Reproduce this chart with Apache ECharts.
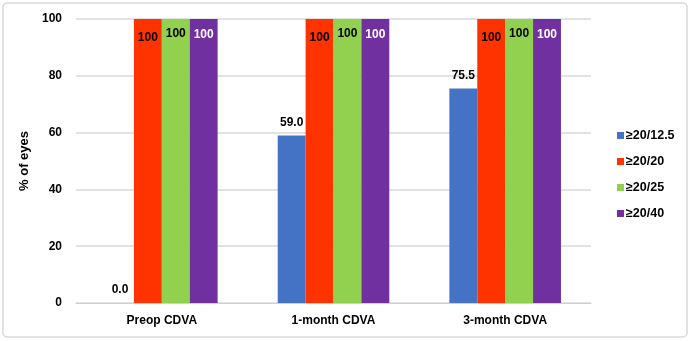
<!DOCTYPE html>
<html><head><meta charset="utf-8">
<script src="https://cdn.jsdelivr.net/npm/echarts@6/dist/echarts.min.js"></script>
<style>html,body{margin:0;padding:0;background:#fff}#c{width:691px;height:341px}</style>
</head><body><div id="c"></div>
<script>
const categories = ['Preop CDVA', '1-month CDVA', '3-month CDVA'];
const seriesNames = ['≥20/12.5', '≥20/20', '≥20/25', '≥20/40'];
const v12_5 = [0.0, 59.0, 75.5];
const v20 = [100, 100, 100];
const v25 = [100, 100, 100];
const v40 = [100, 100, 100];
const yTicks = [0, 20, 40, 60, 80, 100];

const colors = ['#4472C4', '#FF3300', '#92D050', '#7030A0'];
const font = 'Liberation Sans, Arial, sans-serif';
const chart = echarts.init(document.getElementById('c'));
const lbl = (pos, color, fmt, off) => ({show: true, position: pos, color: color, fontFamily: font, fontWeight: 'bold', fontSize: 12, formatter: fmt, offset: off || [0, 0]});
chart.setOption({
  animation: false,
  graphic: [{type: 'rect', shape: {x: 3, y: 3, width: 684, height: 334, r: 4}, style: {fill: 'none', stroke: '#d9d9d9', lineWidth: 1.5}}],
  grid: {left: 76, right: 100, top: 19, bottom: 38},
  legend: {orient: 'vertical', left: 612, top: 124, itemWidth: 7, itemHeight: 7, itemGap: 13, icon: 'rect',
    textStyle: {fontFamily: font, fontWeight: 'bold', fontSize: 12.5, color: '#000', padding: [0, 0, 0, -3]},
    data: seriesNames},
  xAxis: {type: 'category', data: categories, axisTick: {show: false},
    axisLine: {lineStyle: {color: '#d0d0d0', width: 1}},
    axisLabel: {fontFamily: font, fontWeight: 'bold', fontSize: 12, color: '#000', margin: 12}},
  yAxis: {type: 'value', min: yTicks[0], max: yTicks[yTicks.length - 1], interval: 20,
    name: '% of eyes', nameLocation: 'middle', nameGap: 38, nameRotate: 90,
    nameTextStyle: {fontFamily: font, fontWeight: 'bold', fontSize: 13, color: '#000'},
    axisLabel: {fontFamily: font, fontWeight: 'bold', fontSize: 12, color: '#000', margin: 14},
    splitLine: {lineStyle: {color: '#d9d9d9', width: 1.5}}},
  series: [
    {name: seriesNames[0], type: 'bar', data: v12_5, barGap: '0%', barCategoryGap: '35%', itemStyle: {color: colors[0]},
      label: lbl('top', '#000', p => p.value.toFixed(1), [0, -2])},
    {name: seriesNames[1], type: 'bar', data: v20, itemStyle: {color: colors[1]},
      label: lbl('insideTop', '#000', p => String(p.value), [0, 8])},
    {name: seriesNames[2], type: 'bar', data: v25, itemStyle: {color: colors[2]},
      label: lbl('insideTop', '#000', p => String(p.value), [0, 4])},
    {name: seriesNames[3], type: 'bar', data: v40, itemStyle: {color: colors[3]},
      label: lbl('insideTop', '#fff', p => String(p.value), [0, 5])}
  ]
});
</script></body></html>
